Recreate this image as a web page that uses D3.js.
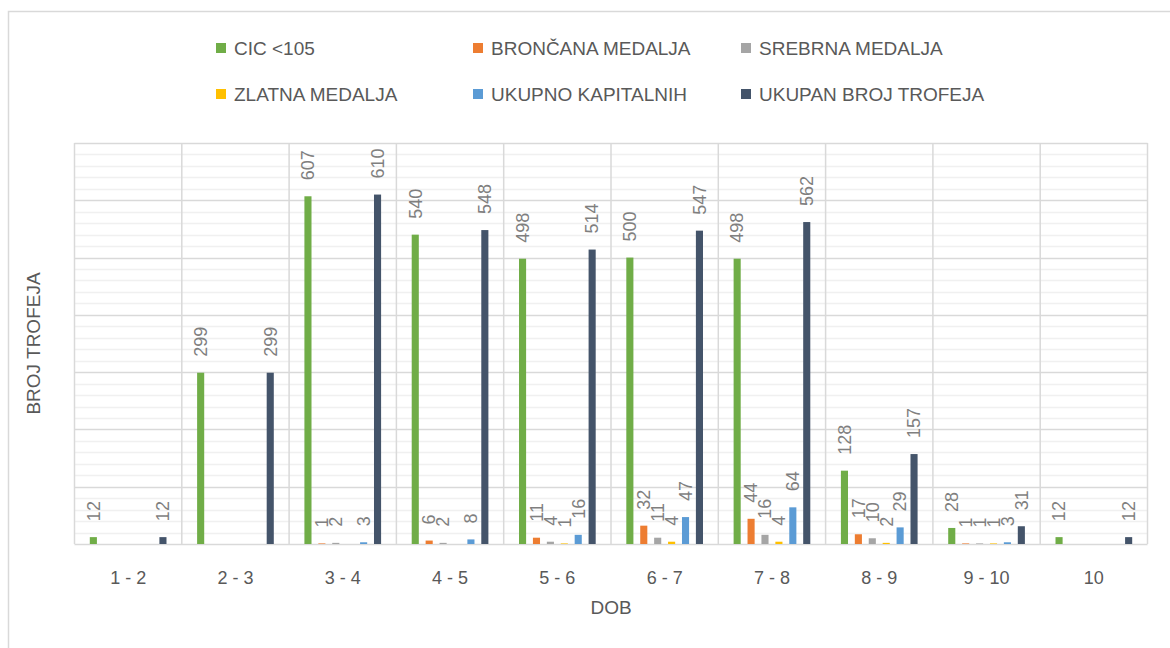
<!DOCTYPE html>
<html>
<head>
<meta charset="utf-8">
<script src="https://cdn.jsdelivr.net/npm/d3@7"></script>
<style>
  body { margin: 0; background: #fff; }
  text { font-family: "Liberation Sans", Arial, sans-serif; }
</style>
</head>
<body>
<div id="chart"></div>
<script>
// categories (age groups)
var categories = ["1 - 2", "2 - 3", "3 - 4", "4 - 5", "5 - 6", "6 - 7", "7 - 8", "8 - 9", "9 - 10", "10"];

var seriesNames = ["CIC <105", "BRONČANA MEDALJA", "SREBRNA MEDALJA", "ZLATNA MEDALJA", "UKUPNO KAPITALNIH", "UKUPAN BROJ TROFEJA"];
var seriesColors = ["#70ad47", "#ed7d31", "#a5a5a5", "#ffc000", "#5b9bd5", "#44546a"];

// null = empty cell, no bar and no label
var cic       = [12, 299, 607, 540, 498, 500, 498, 128, 28, 12];
var bronca    = [null, null, 1, 6, 11, 32, 44, 17, 1, null];
var srebro    = [null, null, 2, 2, 4, 11, 16, 10, 1, null];
var zlato     = [null, null, null, null, 1, 4, 4, 2, 1, null];
var kapitalni = [null, null, 3, 8, 16, 47, 64, 29, 3, null];
var ukupno    = [12, 299, 610, 548, 514, 547, 562, 157, 31, 12];

var allSeries = [cic, bronca, srebro, zlato, kapitalni, ukupno];

var yMax = 700;
var yMajor = d3.range(0, 701, 100);
var yMinor = d3.range(0, 701, 20);

var width = 1170, height = 648;
var plot = {left: 74.5, right: 1147.5, top: 143, bottom: 544};

var svg = d3.select("#chart").append("svg")
	.attr("width", width)
	.attr("height", height);

// chart border (runs off the right/bottom edge in the original)
svg.append("rect")
	.attr("x", 8.5).attr("y", 11.5)
	.attr("width", 1200).attr("height", 700)
	.attr("fill", "#fff")
	.attr("stroke", "#d9d9d9")
	.attr("stroke-width", 1.5);

var x0 = d3.scaleBand()
	.domain(categories)
	.range([plot.left, plot.right])
	.padding(0);

var x1 = d3.scaleBand()
	.domain(d3.range(seriesNames.length))
	.range([0, x0.bandwidth()])
	.paddingInner(0.49)
	.paddingOuter(1.1);

var y = d3.scaleLinear()
	.domain([0, yMax])
	.range([plot.bottom, plot.top]);

// minor gridlines
svg.append("g").selectAll("line")
	.data(yMinor.filter(function(d){ return d % 100 != 0; }))
	.enter().append("line")
	.attr("x1", plot.left).attr("x2", plot.right)
	.attr("y1", function(d){ return Math.round(y(d)) + 0.5; })
	.attr("y2", function(d){ return Math.round(y(d)) + 0.5; })
	.attr("stroke", "#f0f0f0")
	.attr("stroke-width", 1.5);

// major gridlines
svg.append("g").selectAll("line")
	.data(yMajor)
	.enter().append("line")
	.attr("x1", plot.left).attr("x2", plot.right)
	.attr("y1", function(d){ return Math.round(y(d)) + 0.5; })
	.attr("y2", function(d){ return Math.round(y(d)) + 0.5; })
	.attr("stroke", "#d9d9d9")
	.attr("stroke-width", 1.5);

// vertical category lines
var catEdges = categories.map(function(c){ return x0(c); }).concat([plot.right]);
svg.append("g").selectAll("line")
	.data(catEdges)
	.enter().append("line")
	.attr("x1", function(d){ return d; }).attr("x2", function(d){ return d; })
	.attr("y1", plot.top).attr("y2", plot.bottom)
	.attr("stroke", "#d9d9d9")
	.attr("stroke-width", 1.5);

// bars + labels
var groups = svg.append("g").selectAll("g")
	.data(categories)
	.enter().append("g")
	.attr("transform", function(c){ return "translate(" + x0(c) + ",0)"; });

var cells = groups.selectAll("g")
	.data(function(c, i){
		return allSeries.map(function(s, si){ return {s: si, v: s[i]}; })
			.filter(function(d){ return d.v != null; });
	})
	.enter().append("g");

cells.append("rect")
	.attr("x", function(d){ return x1(d.s); })
	.attr("width", x1.bandwidth())
	.attr("y", function(d){ return y(d.v); })
	.attr("height", function(d){ return y(0) - y(d.v); })
	.attr("fill", function(d){ return seriesColors[d.s]; });

cells.append("text")
	.attr("transform", function(d){
		return "translate(" + (x1(d.s) + x1.bandwidth()/2) + "," + (y(d.v) - 16) + ") rotate(-90)";
	})
	.attr("dy", "0.35em")
	.attr("font-size", 18)
	.attr("fill", "#7f7f7f")
	.text(function(d){ return d.v; });

// category labels
svg.append("g").selectAll("text")
	.data(categories)
	.enter().append("text")
	.attr("x", function(c){ return x0(c) + x0.bandwidth()/2; })
	.attr("y", 584)
	.attr("text-anchor", "middle")
	.attr("font-size", 18)
	.attr("fill", "#595959")
	.text(function(c){ return c; });

// axis titles
svg.append("text")
	.attr("x", (plot.left + plot.right)/2)
	.attr("y", 614)
	.attr("text-anchor", "middle")
	.attr("font-size", 19)
	.attr("fill", "#595959")
	.text("DOB");

svg.append("text")
	.attr("transform", "translate(40," + ((plot.top + plot.bottom)/2) + ") rotate(-90)")
	.attr("text-anchor", "middle")
	.attr("font-size", 19)
	.attr("fill", "#595959")
	.text("BROJ TROFEJA");

// legend, 3 columns x 2 rows
var legendCols = [216, 473, 741];
var legendRows = [48, 94];
var legend = svg.append("g").selectAll("g")
	.data(seriesNames)
	.enter().append("g")
	.attr("transform", function(d, i){
		return "translate(" + legendCols[i % 3] + "," + legendRows[Math.floor(i / 3)] + ")";
	});

legend.append("rect")
	.attr("x", 0).attr("y", -5)
	.attr("width", 10).attr("height", 10)
	.attr("fill", function(d, i){ return seriesColors[i]; });

legend.append("text")
	.attr("x", 18)
	.attr("dy", "0.35em")
	.attr("font-size", 19)
	.attr("fill", "#595959")
	.text(function(d){ return d; });
</script>
</body>
</html>
